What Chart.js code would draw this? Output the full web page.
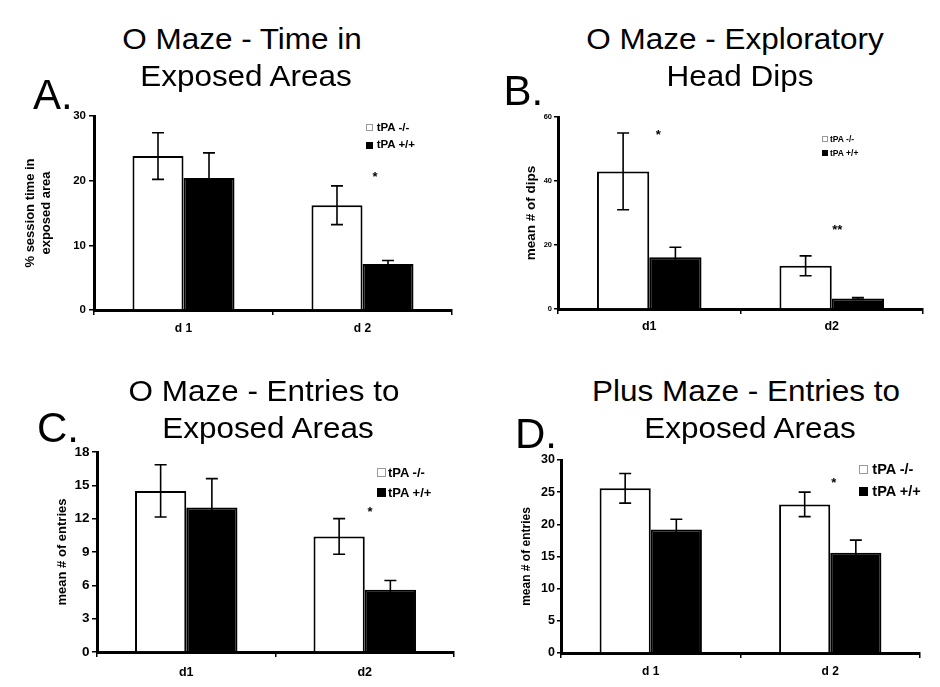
<!DOCTYPE html>
<html>
<head>
<meta charset="utf-8">
<script src="https://cdn.jsdelivr.net/npm/chart.js@4.4.1/dist/chart.umd.min.js"></script>
<style>
  body { margin: 0; background: #fff; width: 940px; height: 687px; position: relative; overflow: hidden;
         font-family: "Liberation Sans", Arial, sans-serif; color: #000; }
  canvas { position: absolute; }
  .ttl { position: absolute; width: 400px; text-align: center; font-size: 29px; line-height: 37px;
         white-space: nowrap; transform: scaleX(1.085); transform-origin: 50% 50%; z-index: 2; }
  .let { position: absolute; font-size: 42px; line-height: 42px; white-space: nowrap; z-index: 2; }
  .lg  { position: absolute; font-weight: bold; white-space: nowrap; z-index: 2; }
  .box { position: absolute; box-sizing: border-box; z-index: 2; }
</style>
</head>
<body>
<div class="let" style="left:33px;top:73.5px">A.</div>
<div class="let" style="left:503.5px;top:69.5px">B.</div>
<div class="let" style="left:37px;top:406.5px">C.</div>
<div class="let" style="left:515px;top:412.5px">D.</div>

<div class="ttl" style="left:42px;top:20.5px">O Maze - Time in</div>
<div class="ttl" style="left:45.5px;top:57.5px">Exposed Areas</div>
<div class="ttl" style="left:535px;top:20.5px">O Maze - Exploratory</div>
<div class="ttl" style="left:539.5px;top:57.5px">Head Dips</div>
<div class="ttl" style="left:64px;top:373px">O Maze - Entries to</div>
<div class="ttl" style="left:68px;top:409.5px">Exposed Areas</div>
<div class="ttl" style="left:546px;top:373px">Plus Maze - Entries to</div>
<div class="ttl" style="left:550px;top:409.5px">Exposed Areas</div>

<canvas id="chartA" width="470" height="240" style="left:0;top:100px"></canvas>
<canvas id="chartB" width="470" height="240" style="left:470px;top:100px"></canvas>
<canvas id="chartC" width="470" height="247" style="left:0;top:440px"></canvas>
<canvas id="chartD" width="470" height="247" style="left:470px;top:440px"></canvas>

<script>
// categories and legend
const daysSpaced = ['d 1', 'd 2'];
const daysPlain = ['d1', 'd2'];
const legendLabels = ['tPA -/-', 'tPA +/+'];

// A. O maze - % session time in exposed areas
const timeKO = [23.8, 16.2];
const timeWT = [20.4, 7.1];
const timeKOErr = [3.6, 3.0];
const timeWTErr = [3.9, 0.55];
const timeTicks = [0, 10, 20, 30];
const timeStars = [[1.07, 21.0, '*']];

// B. O maze - exploratory head dips
const dipsKO = [43.0, 13.5];
const dipsWT = [16.2, 3.3];
const dipsKOErr = [12.0, 3.1];
const dipsWTErr = [3.1, 0.3];
const dipsTicks = [0, 20, 40, 60];
const dipsStars = [[0.05, 55.2, '*'], [1.03, 25.4, '**']];

// C. O maze - entries to exposed areas
const oEntriesKO = [14.5, 10.4];
const oEntriesWT = [13.0, 5.6];
const oEntriesKOErr = [2.35, 1.6];
const oEntriesWTErr = [2.6, 0.83];
const oEntriesTicks = [0, 3, 6, 9, 12, 15, 18];
const oEntriesStars = [[1.03, 12.8, '*']];

// D. Plus maze - entries to exposed areas
const plusEntriesKO = [25.6, 23.1];
const plusEntriesWT = [19.2, 15.6];
const plusEntriesKOErr = [2.3, 1.9];
const plusEntriesWTErr = [1.6, 1.95];
const plusEntriesTicks = [0, 5, 10, 15, 20, 25, 30];
const plusEntriesStars = [[1.02, 26.8, '*']];

const FONT = '"Liberation Sans", Arial, sans-serif';

// error bars + significance stars, placed through the chart scales
const errorBars = {
  id: 'errorBars',
  afterDatasetsDraw(chart, args, opts) {
    const ctx = chart.ctx;
    const xs = chart.scales.x, ys = chart.scales.y;
    ctx.save();
    ctx.strokeStyle = '#000';
    ctx.lineWidth = 1.6;
    chart.data.datasets.forEach((ds, i) => {
      chart.getDatasetMeta(i).data.forEach((bar, j) => {
        const v = ds.data[j], e = opts.errors[i][j];
        const top = ys.getPixelForValue(v + e), bot = ys.getPixelForValue(v - e);
        ctx.beginPath();
        ctx.moveTo(bar.x, top); ctx.lineTo(bar.x, bot);
        ctx.moveTo(bar.x - opts.cap, top); ctx.lineTo(bar.x + opts.cap, top);
        ctx.moveTo(bar.x - opts.cap, bot); ctx.lineTo(bar.x + opts.cap, bot);
        ctx.stroke();
      });
    });
    ctx.fillStyle = '#000';
    ctx.font = 'bold ' + opts.starSize + 'px ' + FONT;
    ctx.textAlign = 'center';
    ctx.textBaseline = 'middle';
    opts.stars.forEach(([at, val, txt]) => {
      ctx.fillText(txt, xs.getPixelForValue(at), ys.getPixelForValue(val) + opts.starSize * 0.22);
    });
    ctx.restore();
  }
};

function makePanel(id, p) {
  const axisGrid = { display: true, drawOnChartArea: false, color: '#000', lineWidth: 1.5 };
  new Chart(document.getElementById(id), {
    type: 'bar',
    data: {
      labels: p.labels,
      datasets: [
        { label: legendLabels[0], data: p.ko, backgroundColor: '#fff', borderColor: '#000', borderWidth: 2,
          categoryPercentage: p.group, barPercentage: 1 },
        { label: legendLabels[1], data: p.wt, backgroundColor: '#000', borderColor: '#000', borderWidth: 2,
          categoryPercentage: p.group, barPercentage: 1 }
      ]
    },
    options: {
      responsive: false,
      animation: false,
      layout: { padding: { top: p.padTop, right: p.padRight, left: 0, bottom: 0 } },
      scales: {
        x: {
          grid: Object.assign({ tickLength: 5 }, axisGrid),
          border: { color: '#000', width: 3 },
          ticks: { color: '#000', padding: p.xPad, font: { family: FONT, size: p.xFont, weight: 'bold' } },
          afterFit: s => { s.height = p.xh; }
        },
        y: {
          min: 0,
          max: p.ticks[p.ticks.length - 1],
          afterBuildTicks: s => { s.ticks = p.ticks.map(v => ({ value: v })); },
          grid: Object.assign({ tickLength: p.yTick }, axisGrid),
          border: { color: '#000', width: 3 },
          ticks: { color: '#000', padding: p.yPad, font: { family: FONT, size: p.yFont, weight: 'bold' } },
          title: { display: true, text: p.yTitle, color: '#000', padding: { top: p.titlePad, bottom: 0 },
                   font: { family: FONT, size: p.titleFont, weight: 'bold' } },
          afterFit: s => { s.width = p.yw; }
        }
      },
      plugins: {
        legend: { display: false },
        tooltip: { enabled: false },
        errorBars: { errors: [p.koErr, p.wtErr], stars: p.stars, cap: 6, starSize: 13 }
      }
    },
    plugins: [errorBars]
  });
}

function makeLegend(l) {
  legendLabels.forEach((txt, i) => {
    const cy = l.rows[i];
    const b = document.createElement('div');
    b.className = 'box';
    b.style.cssText = `left:${l.boxX}px;top:${cy - l.box / 2}px;width:${l.box}px;height:${l.box}px;` +
      (i === 0 ? 'background:#fff;border:1px solid #999;' : 'background:#000;');
    document.body.appendChild(b);
    const t = document.createElement('div');
    t.className = 'lg';
    t.textContent = txt;
    t.style.cssText = `left:${l.textX}px;top:${cy - l.font / 2}px;font-size:${l.font}px;line-height:${l.font}px;`;
    document.body.appendChild(t);
  });
}

makePanel('chartA', {
  labels: daysSpaced, ko: timeKO, wt: timeWT, koErr: timeKOErr, wtErr: timeWTErr, ticks: timeTicks, stars: timeStars,
  yTitle: ['% session time in', 'exposed area'], titleFont: 13, titlePad: 23,
  yw: 94, xh: 30, padTop: 16, padRight: 18, group: 0.57,
  xFont: 12, xPad: 6, yFont: 11.5, yPad: 3, yTick: 5
});
makePanel('chartB', {
  labels: daysPlain, ko: dipsKO, wt: dipsWT, koErr: dipsKOErr, wtErr: dipsWTErr, ticks: dipsTicks, stars: dipsStars,
  yTitle: 'mean # of dips', titleFont: 13.5, titlePad: 53,
  yw: 88, xh: 31, padTop: 17, padRight: 17, group: 0.573,
  xFont: 12.5, xPad: 5, yFont: 7.5, yPad: 2, yTick: 4
});
makePanel('chartC', {
  labels: daysPlain, ko: oEntriesKO, wt: oEntriesWT, koErr: oEntriesKOErr, wtErr: oEntriesWTErr, ticks: oEntriesTicks, stars: oEntriesStars,
  yTitle: 'mean # of entries', titleFont: 13, titlePad: 55,
  yw: 97, xh: 35, padTop: 12, padRight: 16, group: 0.574,
  xFont: 12.5, xPad: 8, yFont: 13.5, yPad: 2.5, yTick: 5
});
makePanel('chartD', {
  labels: daysSpaced, ko: plusEntriesKO, wt: plusEntriesWT, koErr: plusEntriesKOErr, wtErr: plusEntriesWTErr, ticks: plusEntriesTicks, stars: plusEntriesStars,
  yTitle: 'mean # of entries', titleFont: 12, titlePad: 49.5,
  yw: 91, xh: 34, padTop: 20, padRight: 20, group: 0.57,
  xFont: 12, xPad: 6.5, yFont: 12.5, yPad: 2, yTick: 4
});

makeLegend({ boxX: 366, textX: 376.7, rows: [127.7, 145], box: 7, font: 11.5 });
makeLegend({ boxX: 822, textX: 830, rows: [139.3, 153.3], box: 6, font: 8.5 });
makeLegend({ boxX: 376.7, textX: 388, rows: [472.7, 492.7], box: 9.5, font: 13 });
makeLegend({ boxX: 859, textX: 872.3, rows: [469.3, 491.7], box: 8.5, font: 14.5 });
</script>
</body>
</html>
